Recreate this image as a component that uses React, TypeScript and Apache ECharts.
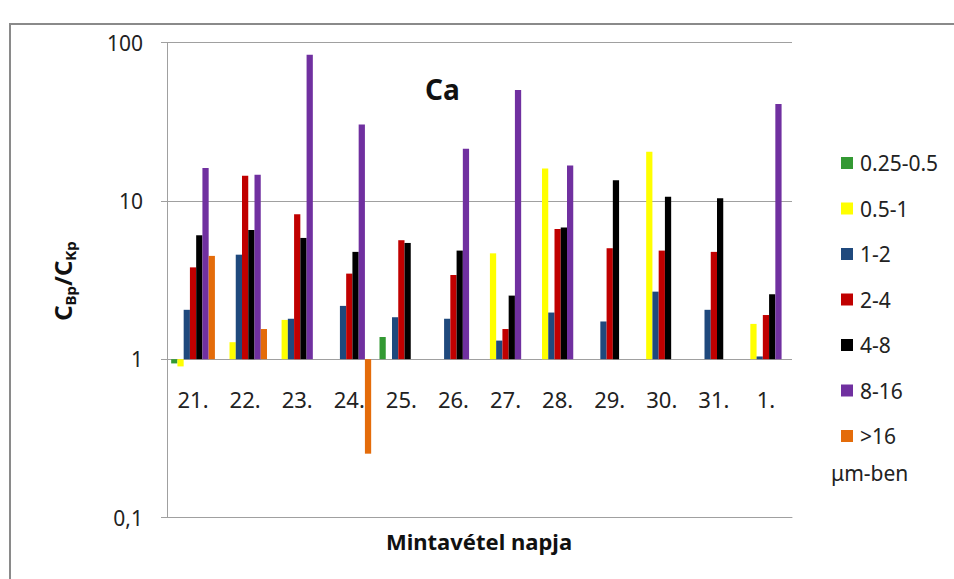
import React, { useEffect, useRef } from 'react';
import * as echarts from 'echarts';

const categories = ['21.', '22.', '23.', '24.', '25.', '26.', '27.', '28.', '29.', '30.', '31.', '1.'];
const seriesNames = ['0.25-0.5', '0.5-1', '1-2', '2-4', '4-8', '8-16', '>16'];
const seriesColors = ['#339933', '#FFFF00', '#1F497D', '#C00000', '#000000', '#7030A0', '#E46C0A'];

const s025_05 = [0.94, null, null, null, 1.38, null, null, null, null, null, null, null];
const s05_1 = [0.9, 1.28, 1.77, null, null, null, 4.66, 16.0, null, 20.4, null, 1.67];
const s1_2 = [2.05, 4.57, 1.8, 2.17, 1.84, 1.8, 1.31, 1.97, 1.73, 2.67, 2.05, 1.04];
const s2_4 = [3.8, 14.4, 8.24, 3.47, 5.64, 3.4, 1.55, 6.65, 5.02, 4.85, 4.76, 1.9];
const s4_8 = [6.06, 6.55, 5.83, 4.76, 5.42, 4.85, 2.52, 6.78, 13.5, 10.6, 10.4, 2.57];
const s8_16 = [16.1, 14.6, 83.6, 30.3, null, 21.3, 50.2, 16.7, null, null, null, 40.9];
const s16 = [4.49, 1.55, null, 0.253, null, null, null, null, null, null, null, null];

const seriesData = [s025_05, s05_1, s1_2, s2_4, s4_8, s8_16, s16];

const FONT = 'Noto Sans';

export default function App() {
  const ref = useRef<HTMLDivElement>(null);
  useEffect(() => {
    document.body.style.margin = '0';
    const chart = echarts.init(ref.current as HTMLDivElement, null, { renderer: 'svg' });
    chart.setOption({
      animation: false,
      backgroundColor: '#ffffff',
      textStyle: { fontFamily: FONT },
      grid: { left: 167, top: 42.5, width: 625, height: 475, containLabel: false },
      legend: {
        orient: 'vertical',
        left: 836,
        top: 146,
        icon: 'rect',
        itemWidth: 12,
        itemHeight: 12,
        itemGap: 21.5,
        data: seriesNames,
        textStyle: { fontSize: 21, color: '#222', fontFamily: FONT, lineHeight: 24, padding: [0, 0, 0, 2] },
      },
      xAxis: {
        type: 'category',
        data: categories,
        axisLine: { show: true, lineStyle: { color: '#a0a0a0', width: 1 } },
        axisTick: { show: false },
        axisLabel: {
          margin: -119,
          verticalAlign: 'middle',
          fontSize: 22,
          color: '#222',
          fontFamily: FONT,
          interval: 0,
        },
      },
      yAxis: {
        type: 'log',
        logBase: 10,
        min: 0.1,
        max: 100,
        axisLine: { show: true, lineStyle: { color: '#a0a0a0', width: 1 } },
        axisTick: { show: true, inside: false, length: 6, lineStyle: { color: '#a0a0a0' } },
        minorTick: { show: false },
        axisLabel: {
          margin: 24,
          fontSize: 21,
          color: '#222',
          fontFamily: FONT,
          formatter: (v: number) => (v < 0.5 ? '0,1' : String(Math.round(v))),
        },
        splitLine: { show: true, lineStyle: { color: '#a0a0a0', width: 1 } },
      },
      series: seriesNames.map((name, i) => ({
        name,
        type: 'bar',
        data: seriesData[i],
        barGap: '0%',
        barCategoryGap: '16%',
        itemStyle: { color: seriesColors[i] },
      })),
      graphic: [
        {
          type: 'rect',
          shape: { x: 10, y: 24, width: 1000, height: 700 },
          style: { fill: 'none', stroke: '#8a8a8a', lineWidth: 2 },
          silent: true,
        },
        {
          type: 'text',
          left: 425,
          top: 75,
          style: { text: 'Ca', fontSize: 28, fontWeight: 'bold', fill: '#111', fontFamily: FONT },
        },
        {
          type: 'text',
          x: 479,
          y: 541,
          style: {
            text: 'Mintavétel napja',
            fontSize: 22,
            fontWeight: 'bold',
            fill: '#111',
            fontFamily: FONT,
            align: 'center',
            verticalAlign: 'middle',
          },
        },
        {
          type: 'text',
          x: 62,
          y: 281,
          rotation: Math.PI / 2,
          style: {
            text: '{c|C}{s|Bp}{c|/C}{s|Kp}',
            align: 'center',
            verticalAlign: 'middle',
            fill: '#111',
            fontFamily: FONT,
            rich: {
              c: { fontSize: 24, fontWeight: 'bold', lineHeight: 30, verticalAlign: 'middle', fill: '#111', fontFamily: FONT },
              s: { fontSize: 15, fontWeight: 'bold', lineHeight: 13, verticalAlign: 'bottom', fill: '#111', fontFamily: FONT },
            },
          },
        },
        {
          type: 'text',
          left: 831,
          top: 462,
          style: { text: 'μm-ben', fontSize: 21, fill: '#222', fontFamily: FONT },
        },
      ],
    });
    return () => chart.dispose();
  }, []);
  return <div ref={ref} style={{ width: 954, height: 579, background: '#fff' }} />;
}
